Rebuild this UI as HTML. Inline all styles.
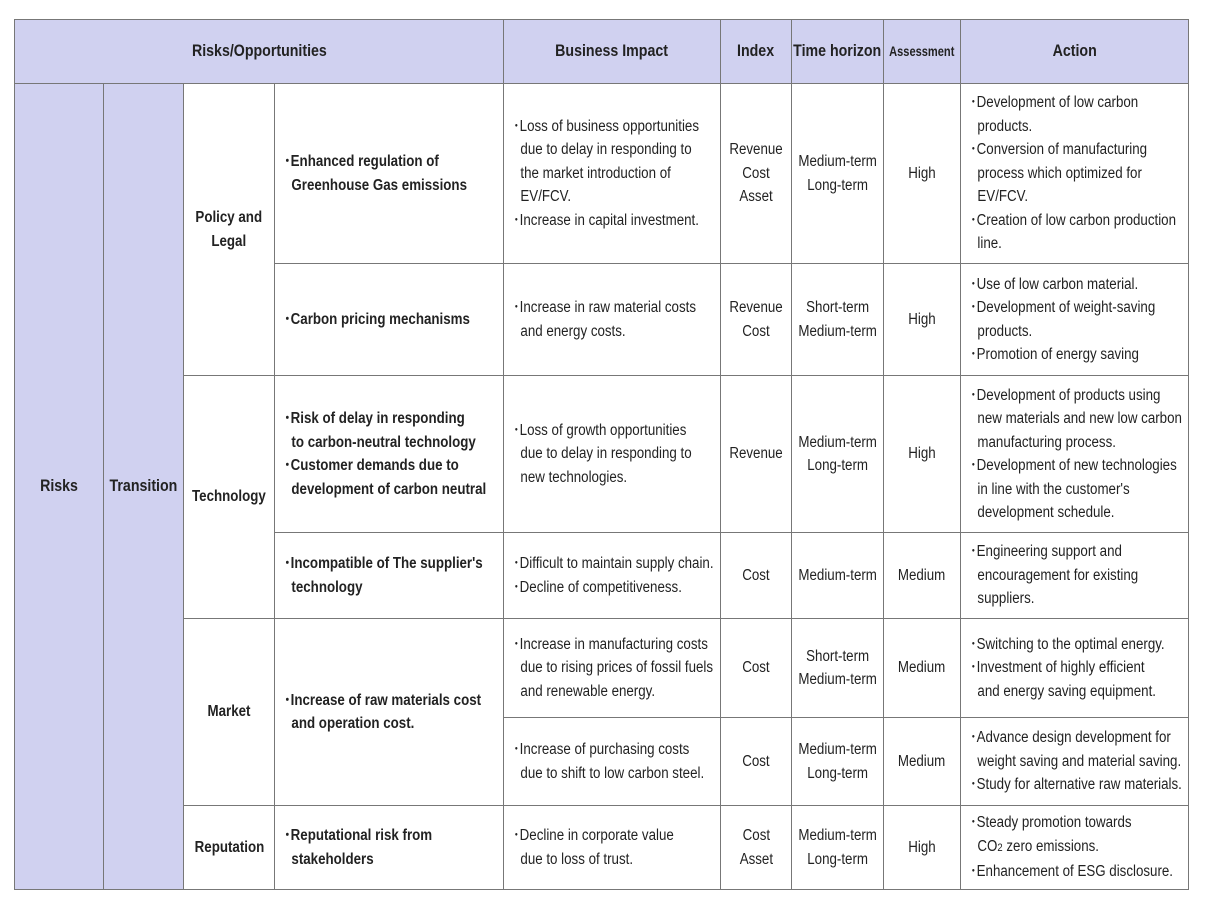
<!DOCTYPE html>
<html><head><meta charset="utf-8"><style>
html,body{margin:0;padding:0;background:#fff;width:1208px;height:903px;overflow:hidden}
body{position:relative;font-family:"Liberation Sans",Arial,sans-serif;color:#222}
.c{position:absolute;box-sizing:border-box;border:1px solid #777;display:flex;align-items:center;overflow:visible}
.h{background:#d0d1f0}
.cen{justify-content:center;text-align:center}
.t{font-size:15.5px;line-height:23.5px;white-space:nowrap;transform:scaleX(.86)}
.h .t{font-size:16.5px}
.cen .t{transform-origin:center}
.l .t{transform-origin:left center}
.l{padding-left:9px}
b{font-weight:bold}
</style></head><body>
<!-- header -->
<div class="c h cen" style="left:14px;top:19px;width:490px;height:65px"><div class="t"><b>Risks/Opportunities</b></div></div>
<div class="c h cen" style="left:503px;top:19px;width:218px;height:65px"><div class="t"><b>Business Impact</b></div></div>
<div class="c h cen" style="left:720px;top:19px;width:72px;height:65px"><div class="t"><b>Index</b></div></div>
<div class="c h cen" style="left:791px;top:19px;width:93px;height:65px"><div class="t"><b>Time horizon</b></div></div>
<div class="c h cen" style="left:883px;top:19px;width:78px;height:65px"><div class="t" style="font-size:13.5px;transform:scaleX(.82)"><b>Assessment</b></div></div>
<div class="c h cen" style="left:960px;top:19px;width:229px;height:65px"><div class="t"><b>Action</b></div></div>
<!-- left merged -->
<div class="c h cen" style="left:14px;top:83px;width:90px;height:807px"><div class="t"><b>Risks</b></div></div>
<div class="c h cen" style="left:103px;top:83px;width:81px;height:807px"><div class="t"><b>Transition</b></div></div>
<!-- categories -->
<div class="c cen" style="left:183px;top:83px;width:92px;height:293px"><div class="t"><b>Policy and<br>Legal</b></div></div>
<div class="c cen" style="left:183px;top:375px;width:92px;height:244px"><div class="t"><b>Technology</b></div></div>
<div class="c cen" style="left:183px;top:618px;width:92px;height:188px"><div class="t"><b>Market</b></div></div>
<div class="c cen" style="left:183px;top:805px;width:92px;height:85px"><div class="t"><b>Reputation</b></div></div>
<!-- risk column -->
<div class="c l" style="left:274px;top:83px;width:230px;height:181px"><div class="t"><b>･Enhanced regulation of<br>&nbsp;&nbsp;Greenhouse Gas emissions</b></div></div>
<div class="c l" style="left:274px;top:263px;width:230px;height:113px"><div class="t"><b>･Carbon pricing mechanisms</b></div></div>
<div class="c l" style="left:274px;top:375px;width:230px;height:158px"><div class="t"><b>･Risk of delay in responding<br>&nbsp;&nbsp;to carbon-neutral technology<br>･Customer demands due to<br>&nbsp;&nbsp;development of carbon neutral</b></div></div>
<div class="c l" style="left:274px;top:532px;width:230px;height:87px"><div class="t"><b>･Incompatible of The supplier's<br>&nbsp;&nbsp;technology</b></div></div>
<div class="c l" style="left:274px;top:618px;width:230px;height:188px"><div class="t"><b>･Increase of raw materials cost<br>&nbsp;&nbsp;and operation cost.</b></div></div>
<div class="c l" style="left:274px;top:805px;width:230px;height:85px"><div class="t"><b>･Reputational risk from<br>&nbsp;&nbsp;stakeholders</b></div></div>
<!-- row1 -->
<div class="c l" style="left:503px;top:83px;width:218px;height:181px"><div class="t">･Loss of business opportunities<br>&nbsp;&nbsp;due to delay in responding to<br>&nbsp;&nbsp;the market introduction of<br>&nbsp;&nbsp;EV/FCV.<br>･Increase in capital investment.</div></div>
<div class="c cen" style="left:720px;top:83px;width:72px;height:181px"><div class="t">Revenue<br>Cost<br>Asset</div></div>
<div class="c cen" style="left:791px;top:83px;width:93px;height:181px"><div class="t">Medium-term<br>Long-term</div></div>
<div class="c cen" style="left:883px;top:83px;width:78px;height:181px"><div class="t">High</div></div>
<div class="c l" style="left:960px;top:83px;width:229px;height:181px"><div class="t">･Development of low carbon<br>&nbsp;&nbsp;products.<br>･Conversion of manufacturing<br>&nbsp;&nbsp;process which optimized for<br>&nbsp;&nbsp;EV/FCV.<br>･Creation of low carbon production<br>&nbsp;&nbsp;line.</div></div>
<!-- row2 -->
<div class="c l" style="left:503px;top:263px;width:218px;height:113px"><div class="t">･Increase in raw material costs<br>&nbsp;&nbsp;and energy costs.</div></div>
<div class="c cen" style="left:720px;top:263px;width:72px;height:113px"><div class="t">Revenue<br>Cost</div></div>
<div class="c cen" style="left:791px;top:263px;width:93px;height:113px"><div class="t">Short-term<br>Medium-term</div></div>
<div class="c cen" style="left:883px;top:263px;width:78px;height:113px"><div class="t">High</div></div>
<div class="c l" style="left:960px;top:263px;width:229px;height:113px"><div class="t">･Use of low carbon material.<br>･Development of weight-saving<br>&nbsp;&nbsp;products.<br>･Promotion of energy saving</div></div>
<!-- row3 -->
<div class="c l" style="left:503px;top:375px;width:218px;height:158px"><div class="t">･Loss of growth opportunities<br>&nbsp;&nbsp;due to delay in responding to<br>&nbsp;&nbsp;new technologies.</div></div>
<div class="c cen" style="left:720px;top:375px;width:72px;height:158px"><div class="t">Revenue</div></div>
<div class="c cen" style="left:791px;top:375px;width:93px;height:158px"><div class="t">Medium-term<br>Long-term</div></div>
<div class="c cen" style="left:883px;top:375px;width:78px;height:158px"><div class="t">High</div></div>
<div class="c l" style="left:960px;top:375px;width:229px;height:158px"><div class="t">･Development of products using<br>&nbsp;&nbsp;new materials and new low carbon<br>&nbsp;&nbsp;manufacturing process.<br>･Development of new technologies<br>&nbsp;&nbsp;in line with the customer's<br>&nbsp;&nbsp;development schedule.</div></div>
<!-- row4 -->
<div class="c l" style="left:503px;top:532px;width:218px;height:87px"><div class="t">･Difficult to maintain supply chain.<br>･Decline of competitiveness.</div></div>
<div class="c cen" style="left:720px;top:532px;width:72px;height:87px"><div class="t">Cost</div></div>
<div class="c cen" style="left:791px;top:532px;width:93px;height:87px"><div class="t">Medium-term</div></div>
<div class="c cen" style="left:883px;top:532px;width:78px;height:87px"><div class="t">Medium</div></div>
<div class="c l" style="left:960px;top:532px;width:229px;height:87px"><div class="t">･Engineering support and<br>&nbsp;&nbsp;encouragement for existing<br>&nbsp;&nbsp;suppliers.</div></div>
<!-- row5 -->
<div class="c l" style="left:503px;top:618px;width:218px;height:100px"><div class="t">･Increase in manufacturing costs<br>&nbsp;&nbsp;due to rising prices of fossil fuels<br>&nbsp;&nbsp;and renewable energy.</div></div>
<div class="c cen" style="left:720px;top:618px;width:72px;height:100px"><div class="t">Cost</div></div>
<div class="c cen" style="left:791px;top:618px;width:93px;height:100px"><div class="t">Short-term<br>Medium-term</div></div>
<div class="c cen" style="left:883px;top:618px;width:78px;height:100px"><div class="t">Medium</div></div>
<div class="c l" style="left:960px;top:618px;width:229px;height:100px"><div class="t">･Switching to the optimal energy.<br>･Investment of highly efficient<br>&nbsp;&nbsp;and energy saving equipment.</div></div>
<!-- row6 -->
<div class="c l" style="left:503px;top:717px;width:218px;height:89px"><div class="t">･Increase of purchasing costs<br>&nbsp;&nbsp;due to shift to low carbon steel.</div></div>
<div class="c cen" style="left:720px;top:717px;width:72px;height:89px"><div class="t">Cost</div></div>
<div class="c cen" style="left:791px;top:717px;width:93px;height:89px"><div class="t">Medium-term<br>Long-term</div></div>
<div class="c cen" style="left:883px;top:717px;width:78px;height:89px"><div class="t">Medium</div></div>
<div class="c l" style="left:960px;top:717px;width:229px;height:89px"><div class="t">･Advance design development for<br>&nbsp;&nbsp;weight saving and material saving.<br>･Study for alternative raw materials.</div></div>
<!-- row7 -->
<div class="c l" style="left:503px;top:805px;width:218px;height:85px"><div class="t">･Decline in corporate value<br>&nbsp;&nbsp;due to loss of trust.</div></div>
<div class="c cen" style="left:720px;top:805px;width:72px;height:85px"><div class="t">Cost<br>Asset</div></div>
<div class="c cen" style="left:791px;top:805px;width:93px;height:85px"><div class="t">Medium-term<br>Long-term</div></div>
<div class="c cen" style="left:883px;top:805px;width:78px;height:85px"><div class="t">High</div></div>
<div class="c l" style="left:960px;top:805px;width:229px;height:85px"><div class="t">･Steady promotion towards<br>&nbsp;&nbsp;CO<span style="font-size:11px">2</span> zero emissions.<br>･Enhancement of ESG disclosure.</div></div>
</body></html>
